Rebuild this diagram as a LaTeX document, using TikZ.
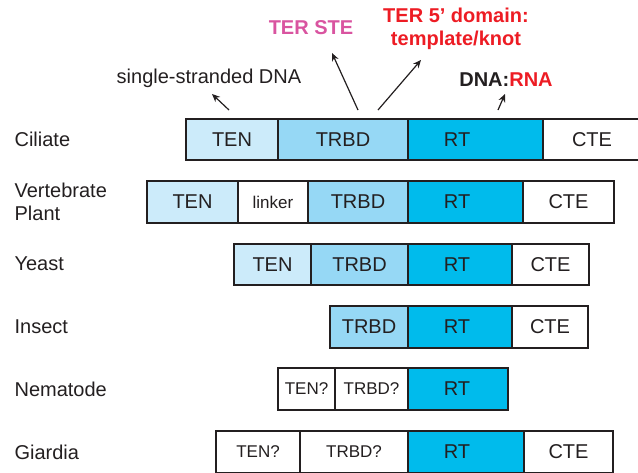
\documentclass[tikz,border=0pt]{standalone}
\usepackage{fontspec}
\setmainfont{Liberation Sans}
\usetikzlibrary{fit,arrows.meta}
\definecolor{tenblue}{RGB}{204,235,250}
\definecolor{trbdblue}{RGB}{150,216,245}
\definecolor{rtblue}{RGB}{0,187,236}
\definecolor{terpink}{RGB}{217,84,160}
\definecolor{terred}{RGB}{237,28,36}
\definecolor{inkgray}{RGB}{35,31,32}

\begin{document}
\begin{tikzpicture}[x=0.5pt, y=-0.5pt, line width=0.6pt, text=inkgray,
    segtext/.style={inner sep=0pt, text=inkgray, font=\fontsize{10}{12}\selectfont},
    small/.style={font=\fontsize{8.5}{10}\selectfont},
    seg/.style={draw=inkgray, inner sep=0pt, label={[segtext]center:#1}},
    segq/.style={draw=inkgray, inner sep=0pt, label={[segtext, small]center:#1}},
    rtseg/.style={draw=inkgray, fill=rtblue, inner sep=0pt, label={[segtext, xshift=#1]center:RT}},
    organism/.style={anchor=west, align=left, inner sep=0pt, font=\fontsize{10}{11.5}\selectfont},
    toplabel/.style={align=center, font=\fontsize{10}{11.5}\selectfont\bfseries},
    pointer/.style={draw=inkgray, -{Stealth[length=4pt,width=3.5pt]}}]
    \useasboundingbox (0,0) rectangle (638,472);

    % Organism names (left column)
    \node[organism] (ciliate) at (14,139) {Ciliate};
    \node[organism] (vertebrate) at (14,202) {Vertebrate\\Plant};
    \node[organism] (yeast) at (14,264) {Yeast};
    \node[organism] (insect) at (14,327) {Insect};
    \node[organism] (nematode) at (14,389) {Nematode};
    \node[organism] (giardia) at (14,452) {Giardia};

    % Ciliate
    \node[seg=TEN, fill=tenblue, fit={(186,119) (278,160)}] (ciTEN) {};
    \node[seg=TRBD, fill=trbdblue, fit={(278,119) (408,160)}] (ciTRBD) {};
    \node[rtseg=-9.2pt, fit={(408,119) (543,160)}] (ciRT) {};
    \node[seg=CTE, fill=white, fit={(543,119) (641,160)}] (ciCTE) {};
    % Vertebrate / Plant
    \node[seg=TEN, fill=tenblue, fit={(147,181) (238,223)}] (veTEN) {};
    \node[segq=linker, fill=white, fit={(238,181) (308,223)}] (veLinker) {};
    \node[seg=TRBD, fill=trbdblue, fit={(308,181) (408,223)}] (veTRBD) {};
    \node[rtseg=-4.2pt, fit={(408,181) (523,223)}] (veRT) {};
    \node[seg=CTE, fill=white, fit={(523,181) (614,223)}] (veCTE) {};
    % Yeast
    \node[seg=TEN, fill=tenblue, fit={(234,244) (311,285)}] (yeTEN) {};
    \node[seg=TRBD, fill=trbdblue, fit={(311,244) (408,285)}] (yeTRBD) {};
    \node[rtseg=-1.5pt, fit={(408,244) (512,285)}] (yeRT) {};
    \node[seg=CTE, fill=white, fit={(512,244) (589,285)}] (yeCTE) {};
    % Insect
    \node[seg=TRBD, fill=trbdblue, fit={(330,306) (408,348)}] (inTRBD) {};
    \node[rtseg=-1.5pt, fit={(408,306) (512,348)}] (inRT) {};
    \node[seg=CTE, fill=white, fit={(512,306) (588,348)}] (inCTE) {};
    % Nematode
    \node[segq=TEN?, fill=white, fit={(278,368) (335,410)}] (neTEN) {};
    \node[segq=TRBD?, fill=white, fit={(335,368) (408,410)}] (neTRBD) {};
    \node[rtseg=-0.5pt, fit={(408,368) (508,410)}] (neRT) {};
    % Giardia
    \node[segq=TEN?, fill=white, fit={(216,431) (300,473)}] (giTEN) {};
    \node[segq=TRBD?, fill=white, fit={(300,431) (408,473)}] (giTRBD) {};
    \node[rtseg=-4.5pt, fit={(408,431) (524,473)}] (giRT) {};
    \node[seg=CTE, fill=white, fit={(524,431) (613,473)}] (giCTE) {};

    % Binding partners above the ciliate protein
    \node[font=\fontsize{10}{11.5}\selectfont] (ssDNA) at (209,78) {single-stranded DNA};
    \node[toplabel, text=terpink] (terSTE) at (311,28) {TER STE};
    \node[toplabel, text=terred] (terFive) at (456,29) {TER 5’ domain:\\template/knot};
    \node[toplabel] (dnaRNA) at (506,80) {DNA:\textcolor{terred}{RNA}};

    \coordinate (ssTail) at (229,110); \coordinate (ssHead) at (212,94);
    \coordinate (steTail) at (358,110); \coordinate (steHead) at (332,53);
    \coordinate (knotTail) at (378,110); \coordinate (knotHead) at (421,60);
    \coordinate (hybTail) at (498,110); \coordinate (hybHead) at (505,94);
    \draw[pointer] (ssTail) -- (ssHead);
    \draw[pointer] (steTail) -- (steHead);
    \draw[pointer] (knotTail) -- (knotHead);
    \draw[pointer] (hybTail) -- (hybHead);
\end{tikzpicture}
\end{document}
